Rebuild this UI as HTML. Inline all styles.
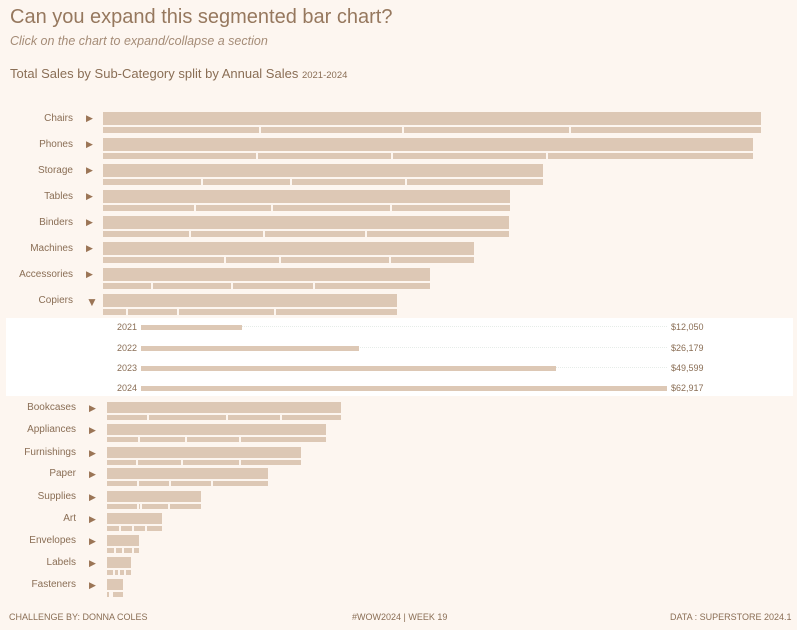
<!DOCTYPE html>
<html><head><meta charset="utf-8"><style>
body{margin:0;width:797px;height:630px;background:#fdf6f0;font-family:"Liberation Sans",sans-serif;color:#8a6e55;position:relative;overflow:hidden}
.a{position:absolute;white-space:nowrap}
.b{position:absolute;background:#ddc8b5}
.l{position:absolute;font-size:10px;text-align:right;width:80px;color:#8a6e55}
.ar{position:absolute;font-size:9px;color:#9b7556}
.d{position:absolute;width:2px;background:#fdf6f0}
</style></head><body>
<div class="a" style="left:10px;top:6px;font-size:20px;color:#96785e">Can you expand this segmented bar chart?</div>
<div class="a" style="left:10px;top:34px;font-size:12.5px;font-style:italic;color:#a58c77">Click on the chart to expand/collapse a section</div>
<div class="a" style="left:10px;top:66px;font-size:13px;color:#8a6e55">Total Sales by Sub-Category split by Annual Sales <span style="font-size:9.5px">2021-2024</span></div>
<div id="c"></div>
<div class="a" style="left:6px;top:318px;width:787px;height:78px;background:#fff"></div>
<div id="e"></div>
<div class="a" style="left:9px;top:612px;font-size:9px">CHALLENGE BY: DONNA COLES</div>
<div class="a" style="left:352px;top:612px;font-size:9px">#WOW2024 | WEEK 19</div>
<div class="a" style="left:670px;top:612px;font-size:9px">DATA : SUPERSTORE 2024.1</div>
<script>
(function(){
var h='';
var rowsTop=[["Chairs",761,[259,402,569]],["Phones",753,[256,391,546]],["Storage",543,[201,290,405]],["Tables",510,[194,271,390]],["Binders",509,[189,263,365]],["Machines",474,[224,279,389]],["Accessories",430,[151,231,313]],["Copiers",397,[126,177,274]]];
rowsTop.forEach(function(r,i){var y=112+i*26;
h+='<div class="l" style="left:-7px;top:'+(y+1)+'px">'+r[0]+'</div>';
h+='<div class="ar" style="left:86px;top:'+(y+1)+'px">'+(r[0]=="Copiers"?'<span style="font-size:12px">&#9660;</span>':'&#9654;')+'</div>';
h+='<div class="b" style="left:103px;top:'+y+'px;width:'+(r[1]-103)+'px;height:13px"></div>';
h+='<div class="b" style="left:103px;top:'+(y+15)+'px;width:'+(r[1]-103)+'px;height:6px"></div>';
r[2].forEach(function(x){h+='<div class="d" style="left:'+x+'px;top:'+(y+15)+'px;height:6px"></div>'});});
var bot=[["Bookcases",341,[147,226,280]],["Appliances",326,[138,185,239]],["Furnishings",301,[136,181,239]],["Paper",268,[137,169,211]],["Supplies",201,[137,140,168]],["Art",162,[119,132,145]],["Envelopes",139,[114,122,132]],["Labels",131,[113,118,124]],["Fasteners",123,[109,111]]];
var ys=[402,424,447,468,491,513,535,557,579];
bot.forEach(function(r,i){var y=ys[i];
h+='<div class="l" style="left:-4px;top:'+y+'px">'+r[0]+'</div>';
h+='<div class="ar" style="left:89px;top:'+(y+1)+'px">&#9654;</div>';
h+='<div class="b" style="left:107px;top:'+y+'px;width:'+(r[1]-107)+'px;height:11px"></div>';
h+='<div class="b" style="left:107px;top:'+(y+13)+'px;width:'+(r[1]-107)+'px;height:5px"></div>';
r[2].forEach(function(x){h+='<div class="d" style="left:'+x+'px;top:'+(y+13)+'px;height:5px"></div>'});});
document.getElementById('c').innerHTML=h;
var e='';var ex=[["2021",327,242,"$12,050"],["2022",348,359,"$26,179"],["2023",368,556,"$49,599"],["2024",388,667,"$62,917"]];
ex.forEach(function(r){e+='<div class="a" style="left:117px;top:'+(r[1]-5)+'px;font-size:9px">'+r[0]+'</div>';
e+='<div class="a" style="left:141px;top:'+(r[1]-1)+'px;width:526px;border-top:1px dotted #e6ece8"></div>';
e+='<div class="b" style="left:141px;top:'+(r[1]-2)+'px;width:'+(r[2]-141)+'px;height:5px"></div>';
e+='<div class="a" style="left:671px;top:'+(r[1]-5)+'px;font-size:9px">'+r[3]+'</div>';});
document.getElementById('e').innerHTML=e;
})();
</script>
</body></html>
